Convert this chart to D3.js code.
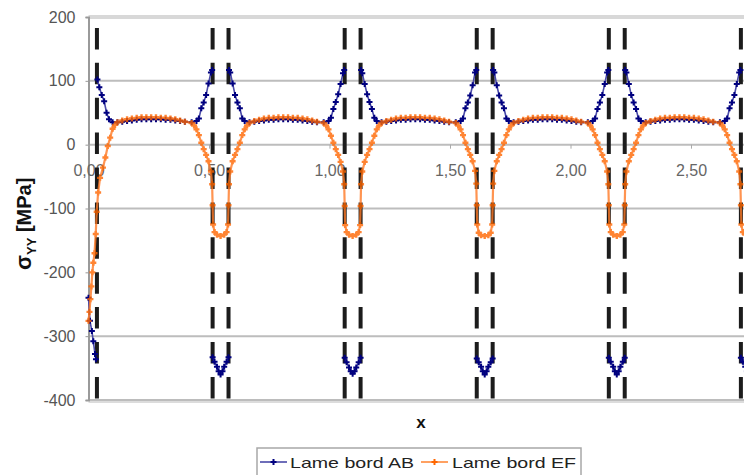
<!DOCTYPE html>
<html><head><meta charset="utf-8">
<script src="https://cdn.jsdelivr.net/npm/d3@7"></script>
<style>
body{margin:0;background:#fff}
svg{display:block}
text{font-family:"Liberation Sans",Arial,sans-serif}
</style>
</head><body>
<svg id="c" width="744" height="475"></svg>
<script>
// ---- data ----
const seriesNames = ["Lame bord AB", "Lame bord EF"];
const xTicks = [0, 0.5, 1, 1.5, 2, 2.5];
const xTickLabels = ["0,00", "0,50", "1,00", "1,50", "2,00", "2,50"];
const yTicks = [200, 100, 0, -100, -200, -300, -400];
const yTickLabels = ["200", "100", "0", "-100", "-200", "-300", "-400"];
const gridValues = [100, 0, -100, -300];
const dashX = [0.035, 0.515, 0.581, 1.063, 1.129, 1.611, 1.677, 2.159, 2.225, 2.707, 2.773];

// Lame bord AB (null = break in the curve)
const abX = [
  0, 0.006, 0.014, 0.020, 0.027, 0.031, 0.034, 0.037, 0.045, 0.055, 0.065, 0.075, 0.085, 0.100, 0.120,
  0.14, 0.16, 0.18, 0.20, 0.22, 0.24, 0.26, 0.28, 0.30, 0.32, 0.34, 0.36, 0.38, 0.40,
  0.428, 0.448, 0.458, 0.468, 0.478, 0.488, 0.498, 0.508, 0.513, 0.514, 0.515, 0.523, 0.533, 0.540, 0.548, 0.556, 0.563, 0.573, 0.581, 0.582, 0.583, 0.588, 0.598, 0.608, 0.618, 0.628, 0.638, 0.648, 0.668,
  0.688, 0.708, 0.728, 0.748, 0.768, 0.788, 0.808, 0.828, 0.848, 0.868, 0.888, 0.908, 0.928, 0.948,
  0.976, 0.996, 1.006, 1.016, 1.026, 1.036, 1.046, 1.056, 1.061, 1.062, 1.063, 1.071, 1.081, 1.088, 1.096, 1.104, 1.111, 1.121, 1.129, 1.130, 1.131, 1.136, 1.146, 1.156, 1.166, 1.176, 1.186, 1.196, 1.216,
  1.236, 1.256, 1.276, 1.296, 1.316, 1.336, 1.356, 1.376, 1.396, 1.416, 1.436, 1.456, 1.476, 1.496,
  1.524, 1.544, 1.554, 1.564, 1.574, 1.584, 1.594, 1.604, 1.609, 1.610, 1.611, 1.619, 1.629, 1.636, 1.644, 1.652, 1.659, 1.669, 1.677, 1.678, 1.679, 1.684, 1.694, 1.704, 1.714, 1.724, 1.734, 1.744, 1.764,
  1.784, 1.804, 1.824, 1.844, 1.864, 1.884, 1.904, 1.924, 1.944, 1.964, 1.984, 2.004, 2.024, 2.044,
  2.072, 2.092, 2.102, 2.112, 2.122, 2.132, 2.142, 2.152, 2.157, 2.158, 2.159, 2.167, 2.177, 2.184, 2.192, 2.200, 2.207, 2.217, 2.225, 2.226, 2.227, 2.232, 2.242, 2.252, 2.262, 2.272, 2.282, 2.292, 2.312,
  2.332, 2.352, 2.372, 2.392, 2.412, 2.432, 2.452, 2.472, 2.492, 2.512, 2.532, 2.552, 2.572, 2.592,
  2.620, 2.640, 2.650, 2.660, 2.670, 2.680, 2.690, 2.700, 2.705, 2.706, 2.707, 2.715, 2.725, 2.732, 2.740, 2.748, 2.755, 2.765, 2.773, 2.774, 2.775, 2.780, 2.790
];
const abY = [
  -240, -276, -292, -308, -328, -336, null, 102, 90, 78, 68, 50, 40, 35, 35,
  36, 37, 38, 39, 40, 40, 40, 40, 40, 39, 39, 38, 37, 36,
  35, 37, 41, 57, 66, 78, 96, 113, 117, null, -333, -340, -348, -355, -360, -355, -348, -340, -333, null, 117, 113, 96, 78, 66, 57, 41, 37, 35,
  36, 37, 38, 39, 39, 40, 40, 40, 39, 39, 38, 37, 36, 35,
  35, 37, 42, 56, 67, 79, 95, 112, 117, null, -334, -341, -349, -355, -359, -355, -349, -341, -334, null, 117, 112, 95, 79, 67, 56, 42, 37, 35,
  36, 37, 38, 39, 39, 40, 40, 40, 39, 39, 38, 37, 36, 35,
  35, 37, 41, 57, 66, 77, 93, 113, 117, null, -335, -341, -348, -355, -360, -355, -348, -341, -335, null, 117, 113, 93, 77, 66, 57, 41, 37, 35,
  36, 37, 38, 39, 39, 40, 40, 40, 39, 39, 38, 37, 36, 35,
  35, 37, 41, 56, 66, 78, 95, 113, 117, null, -334, -340, -348, -355, -360, -355, -348, -340, -334, null, 117, 113, 95, 78, 66, 56, 41, 37, 35,
  36, 37, 38, 39, 39, 40, 40, 40, 39, 39, 38, 37, 36, 35,
  35, 37, 41, 57, 66, 78, 95, 113, 117, null, -334, -340, -348, -355, -360, -355, -348, -340, -334, null, 117, 113, 95
];

// Lame bord EF
const efX = [
  0, 0.004, 0.008, 0.012, 0.016, 0.020, 0.025, 0.030, 0.034, 0.040, 0.048, 0.060, 0.070, 0.080, 0.090, 0.100, 0.110, 0.120,
  0.14, 0.16, 0.18, 0.20, 0.22, 0.24, 0.26, 0.28, 0.30, 0.32, 0.34, 0.36, 0.38, 0.40,
  0.428, 0.438, 0.448, 0.458, 0.468, 0.478, 0.488, 0.498, 0.508, 0.513, 0.515, 0.517, 0.523, 0.533, 0.548, 0.563, 0.573, 0.579, 0.581, 0.583, 0.588, 0.598, 0.608, 0.618, 0.628, 0.638, 0.648, 0.658, 0.668,
  0.688, 0.708, 0.728, 0.748, 0.768, 0.788, 0.808, 0.828, 0.848, 0.868, 0.888, 0.908, 0.928, 0.948,
  0.976, 0.986, 0.996, 1.006, 1.016, 1.026, 1.036, 1.046, 1.056, 1.061, 1.063, 1.065, 1.071, 1.081, 1.096, 1.111, 1.121, 1.127, 1.129, 1.131, 1.136, 1.146, 1.156, 1.166, 1.176, 1.186, 1.196, 1.206, 1.216,
  1.236, 1.256, 1.276, 1.296, 1.316, 1.336, 1.356, 1.376, 1.396, 1.416, 1.436, 1.456, 1.476, 1.496,
  1.524, 1.534, 1.544, 1.554, 1.564, 1.574, 1.584, 1.594, 1.604, 1.609, 1.611, 1.613, 1.619, 1.629, 1.644, 1.659, 1.669, 1.675, 1.677, 1.679, 1.684, 1.694, 1.704, 1.714, 1.724, 1.734, 1.744, 1.754, 1.764,
  1.784, 1.804, 1.824, 1.844, 1.864, 1.884, 1.904, 1.924, 1.944, 1.964, 1.984, 2.004, 2.024, 2.044,
  2.072, 2.082, 2.092, 2.102, 2.112, 2.122, 2.132, 2.142, 2.152, 2.157, 2.159, 2.161, 2.167, 2.177, 2.192, 2.207, 2.217, 2.223, 2.225, 2.227, 2.232, 2.242, 2.252, 2.262, 2.272, 2.282, 2.292, 2.302, 2.312,
  2.332, 2.352, 2.372, 2.392, 2.412, 2.432, 2.452, 2.472, 2.492, 2.512, 2.532, 2.552, 2.572, 2.592,
  2.620, 2.630, 2.640, 2.650, 2.660, 2.670, 2.680, 2.690, 2.700, 2.705, 2.707, 2.709, 2.715, 2.725, 2.740, 2.755, 2.765, 2.771, 2.773, 2.775, 2.780, 2.790
];
const efY = [
  -276, -262, -242, -222, -200, -185, -170, -140, -105, -75, -52, -36, -20, -2, 11, 25, 31, 35,
  38, 40, 41, 42, 43, 43, 43, 43, 42, 42, 41, 40, 38, 36,
  34, 30, 24, 15, 3, -7, -16, -26, -42, -62, -95, -125, -137, -141, -143, -141, -137, -125, -95, -62, -42, -26, -16, -7, 3, 15, 24, 30, 34,
  37, 39, 41, 42, 42, 43, 43, 43, 42, 42, 41, 40, 38, 36,
  34, 30, 24, 14, 3, -7, -16, -27, -42, -62, -96, -126, -137, -141, -143, -141, -137, -126, -96, -62, -42, -27, -16, -7, 3, 14, 24, 30, 34,
  37, 39, 41, 42, 42, 43, 43, 43, 42, 42, 41, 40, 38, 36,
  34, 30, 24, 15, 3, -7, -16, -26, -41, -61, -95, -125, -138, -142, -143, -142, -138, -125, -95, -61, -41, -26, -16, -7, 3, 15, 24, 30, 34,
  37, 39, 41, 42, 42, 43, 43, 43, 42, 42, 41, 40, 38, 36,
  34, 30, 24, 15, 3, -7, -16, -26, -42, -62, -95, -125, -137, -141, -143, -141, -137, -125, -95, -62, -42, -26, -16, -7, 3, 15, 24, 30, 34,
  37, 39, 41, 42, 42, 43, 43, 43, 42, 42, 41, 40, 38, 36,
  34, 30, 24, 15, 3, -7, -16, -26, -42, -62, -95, -125, -137, -141, -143, -141, -137, -125, -95, -62, -42, -26
];

// ---- drawing ----
const svg = d3.select("#c");
const x = d3.scaleLinear().domain([0, 2.8]).range([88.5, 88.5 + 2.8 * 241]);
const y = d3.scaleLinear().domain([-400, 200]).range([400, 17]);
const xEnd = x.range()[1];

// plot border top / bottom bands
svg.append("line").attr("x1", x(0)).attr("x2", xEnd).attr("y1", y(200)).attr("y2", y(200))
  .attr("stroke", "#d8d8d8").attr("stroke-width", 4);
svg.append("line").attr("x1", x(0)).attr("x2", xEnd).attr("y1", y(-400) + 1.5).attr("y2", y(-400) + 1.5)
  .attr("stroke", "#dcdcdc").attr("stroke-width", 3);
svg.append("line").attr("x1", x(0)).attr("x2", xEnd).attr("y1", y(-400)).attr("y2", y(-400))
  .attr("stroke", "#bcbcbc").attr("stroke-width", 2);

// gridlines
svg.append("g").selectAll("line").data(gridValues).join("line")
  .attr("x1", x(0)).attr("x2", xEnd)
  .attr("y1", d => y(d)).attr("y2", d => y(d))
  .attr("stroke", "#bdbdbd").attr("stroke-width", 2);

// y axis
const yAxis = svg.append("g").attr("transform", `translate(${x(0)},0)`)
  .call(d3.axisLeft(y).tickValues(yTicks).tickSize(3).tickPadding(10)
    .tickFormat((d, i) => yTickLabels[i]));
yAxis.select(".domain").attr("stroke", "#9a9a9a").attr("stroke-width", 2);
yAxis.selectAll(".tick line").attr("stroke", "#999");
yAxis.selectAll(".tick text").attr("font-size", 16).attr("fill", "#555")
  .attr("font-family", "'Liberation Sans',Arial,sans-serif");

// x axis at y = 0
const xAxis = svg.append("g").attr("transform", `translate(0,${y(0)})`)
  .call(d3.axisBottom(x).tickValues(xTicks).tickSize(4).tickPadding(16)
    .tickFormat((d, i) => xTickLabels[i]));
xAxis.select(".domain").remove();
xAxis.selectAll(".tick line").attr("stroke", "#aaa");
xAxis.selectAll(".tick text").attr("font-size", 16).attr("fill", "#666")
  .attr("font-family", "'Liberation Sans',Arial,sans-serif");

// vertical dashed lines
svg.append("g").selectAll("path").data(dashX).join("path")
  .attr("d", d => `M${x(d)},${y(200)}L${x(d)},${y(-400)}`)
  .attr("stroke", "#1c1c1c").attr("stroke-width", 4)
  .attr("stroke-dasharray", "21.5,13.4").attr("stroke-dashoffset", 24);

// series
const ab = abX.map((v, i) => [v, abY[i]]);
const ef = efX.map((v, i) => [v, efY[i]]);
const line = d3.line().defined(d => d[1] !== null).x(d => x(d[0])).y(d => y(d[1]));
const cross = "M-3,0H3M0,-3V3";

function drawSeries(data, color, lineColor, lw, mw, op) {
  const g = svg.append("g").attr("opacity", op);
  g.append("path").datum(data).attr("d", line).attr("fill", "none")
    .attr("stroke", lineColor).attr("stroke-width", lw);
  g.selectAll("path.m").data(data.filter(d => d[1] !== null)).join("path").attr("class", "m")
    .attr("d", cross).attr("transform", d => `translate(${x(d[0])},${y(d[1])})`)
    .attr("stroke", color).attr("stroke-width", mw).attr("fill", "none");
}
drawSeries(ab, "#00007f", "#4a4aa8", 1.6, 2, 1);
drawSeries(ef, "#ff6600", "#ff7a26", 2.2, 2.4, 0.8);

// axis titles
svg.append("text").attr("x", 421).attr("y", 428).attr("text-anchor", "middle")
  .attr("font-size", 17).attr("font-weight", "bold").attr("fill", "#111").text("x");

const yt = svg.append("text").attr("transform", "translate(31,270) rotate(-90)")
  .attr("font-weight", "bold").attr("fill", "#111");
yt.append("tspan").attr("font-size", 22).text("σ");
yt.append("tspan").attr("font-size", 13).attr("dy", 5).text("YY");
yt.append("tspan").attr("font-size", 20).attr("dy", -5).text(" [MPa]");

// legend
const lg = svg.append("g");
lg.append("rect").attr("x", 257).attr("y", 448).attr("width", 324).attr("height", 40)
  .attr("fill", "#fff").attr("stroke", "#a8a8a8").attr("stroke-width", 1.5);
const legendItems = [
  {name: seriesNames[0], color: "#00007f", lc: "#4a4aa8", x0: 260, tx: 290},
  {name: seriesNames[1], color: "#ff6600", lc: "#ff8a3a", x0: 421, tx: 452}
];
legendItems.forEach(it => {
  lg.append("line").attr("x1", it.x0).attr("x2", it.x0 + 27).attr("y1", 462).attr("y2", 462)
    .attr("stroke", it.lc).attr("stroke-width", 1.6);
  lg.append("path").attr("d", cross).attr("transform", `translate(${it.x0 + 13.5},462)`)
    .attr("stroke", it.color).attr("stroke-width", 2).attr("fill", "none");
  lg.append("text").attr("x", it.tx).attr("y", 468).attr("font-size", 15).attr("fill", "#222")
    .attr("textLength", 124).attr("lengthAdjust", "spacingAndGlyphs").text(it.name);
});
</script>
</body></html>
